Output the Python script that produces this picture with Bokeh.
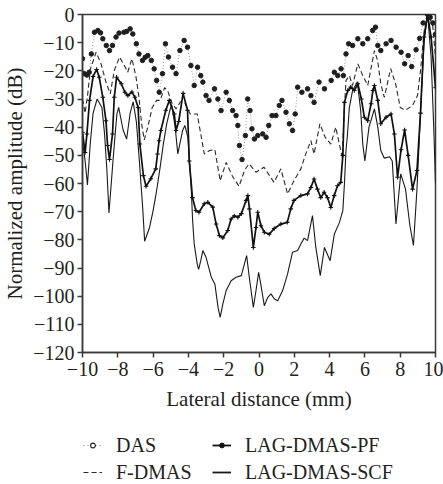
from bokeh.plotting import figure
from bokeh.layouts import column
from bokeh.models import Range1d, Legend, LegendItem, FixedTicker, ColumnDataSource
from bokeh.embed import file_html
from bokeh.resources import INLINE

# ---------------- data ----------------
das_x = [-10, -9.9, -9.75, -9.62, -9.5, -9.32, -9.13, -8.98, -8.85, -8.65, -8.47, -8.3, -8.1, -7.93,
         -7.65, -7.5, -7.3, -7.15, -6.95, -6.8, -6.6, -6.45, -6.3, -6.1, -5.94, -5.8, -5.65, -5.47,
         -5.3, -5.13, -4.9, -4.7, -4.48, -4.24, -4.05, -3.86, -3.67, -3.48, -3.3, -3.18, -3.0, -2.83,
         -2.52, -2.33, -2.15, -1.86, -1.68, -1.49, -1.3, -1.2, -1.11, -0.96, -0.77, -0.64, -0.51,
         -0.4, -0.26, -0.07, 0.21, 0.4, 0.55, 0.74, 0.96, 1.15, 1.3, 1.53, 1.72, 1.9, 2.05, 2.19,
         2.43, 2.75, 2.94, 3.12, 3.4, 3.71, 4.09, 4.27, 4.46, 4.65, 4.78, 4.93, 5.08, 5.3, 5.6,
         5.88, 6.16, 6.44, 6.6, 6.73, 6.9, 7.2, 7.48, 7.77, 8.05, 8.25, 8.45, 8.65, 8.9, 9.1, 9.3,
         9.55, 9.7, 9.85, 10]
das_y = [-15.7, -21, -21.5, -20.5, -14, -6.3, -5.7, -6.5, -8.6, -11, -12.8, -11, -8, -6.6,
         -6.3, -6, -5.1, -6.9, -10.4, -14, -16.3, -15.2, -14.6, -16.3, -19.3, -23.4, -27.6, -21,
         -10.4, -15.1, -18.7, -21, -12.8, -9.2, -11.6, -18.1, -25.2, -18.7, -21.7, -24, -28.8, -30.5,
         -26.4, -30, -34.1, -27.6, -30.5, -34.1, -35.9, -39.4, -46.5, -51.5, -43, -30, -34.1,
         -40.6, -44.2, -43, -42.4, -43.6, -39.4, -35.9, -35.9, -32.3, -30.5, -34.7, -38.8, -41.2, -35.3, -25.8,
         -27.6, -26.4, -28.8, -31.2, -24, -26.4, -23.4, -20.5, -21.7, -19.3, -21.7, -14, -10.4, -11, -8.6,
         -10.4, -8.6, -5.7, -4.5, -11, -12.8, -10.4, -9.2, -11.6, -13.4, -17.5, -14.6, -18.5, -12.5, -8.5, -3,
         0, -1, -3, -7]

fdmas_x = [-10, -9.85, -9.7, -9.55, -9.23, -8.95, -8.67, -8.43, -8.2, -7.9, -7.63, -7.44, -7.2,
           -6.98, -6.8, -6.65, -6.5, -6.3, -6.05, -5.8, -5.6, -5.35, -5.18, -4.95, -4.7, -4.45,
           -4.2, -3.9, -3.5, -3.3, -3.1, -2.8, -2.5, -2.2, -1.86, -1.5, -1.13, -0.8, -0.56, -0.17,
           0.28, 0.85, 1.24, 1.62, 1.98, 2.37, 2.65, 2.94, 3.12, 3.45, 3.75, 4.07, 4.35, 4.55, 4.72,
           4.82, 4.93, 5.12, 5.3, 5.6, 5.88, 6.16, 6.54, 6.72, 6.9, 7.1, 7.46, 7.74, 8.0, 8.3, 8.7,
           8.98, 9.15, 9.36, 9.55, 9.83, 10]
fdmas_y = [-30, -35, -28, -19.3, -13.4, -17.5, -24, -28.2, -19.9, -15.1, -18.1, -20.5, -15.7,
           -21.7, -29.4, -38.8, -44.5, -40, -33, -30.5, -30.5, -26, -27, -31.2, -33.5, -31,
           -31.5, -35.3, -35.3, -42.4, -49.5, -48.3, -48, -59, -52.5, -57.5, -61, -55, -53, -56,
           -54.2, -59.6, -54.8, -63.7, -59, -54.8, -49.5, -44.8, -49.5, -38.8, -43.6, -46, -40, -46, -50.7,
           -35, -23.4, -21.7, -25.2, -17.5, -21.7, -25.2, -12.8, -16.3, -24.6, -29.4, -19.2, -24.6, -33, -34, -32.3,
           -28.8, -20, -5.7, 0, -3.3, -15]

pf_x = [-10, -9.85, -9.75, -9.6, -9.4, -9.2, -9.05, -8.85, -8.67, -8.58, -8.47, -8.3, -8.2, -8.07,
        -7.8, -7.6, -7.43, -7.2, -7.03, -6.85, -6.75, -6.55, -6.4, -6.13, -5.85, -5.75, -5.66, -5.56,
        -5.28, -5.08, -4.8, -4.7, -4.55, -4.3, -4.05, -3.95, -3.77, -3.58, -3.4, -3.1, -2.9, -2.62,
        -2.43, -2.24, -2.05, -1.77, -1.58, -1.4, -1.2, -1.0, -0.73, -0.63, -0.54, -0.32, -0.17, -0.07,
        0.11, 0.3, 0.58, 0.86, 1.24, 1.6, 1.8, 1.98, 2.37, 2.75, 2.94, 3.12, 3.31, 3.5, 3.69, 3.88,
        4.07, 4.26, 4.45, 4.63, 4.75, 4.84, 5.03, 5.2, 5.4, 5.6, 5.8, 5.97, 6.16, 6.35, 6.45, 6.54,
        6.73, 6.9, 7.2, 7.48, 7.67, 7.85, 8.05, 8.25, 8.45, 8.7, 8.95, 9.15, 9.35, 9.55, 9.75, 10]
pf_y = [-41.8, -49, -42.4, -30.5, -22, -19.5, -22.3, -29.4, -37.7, -46.5, -51.5, -42.4, -29.4, -22.3,
        -24.6, -27.6, -28.8, -27.5, -29.4, -33, -46, -57.2, -61, -58.3, -54.8, -49.5, -44.8, -41.2,
        -34, -30.5, -35.3, -41.2, -38, -28, -34, -52, -65, -69.6, -70.2, -67.2, -66.7, -68.4,
        -74.4, -78.5, -79.3, -76.7, -72.6, -71.5, -72, -70.7, -66, -64.3, -69, -82.7, -75.6, -70.2,
        -75, -77.3, -78, -76, -74.4, -73.8, -69, -66, -64.3, -63.7, -61.4, -58.4, -62, -65, -63.1, -65,
        -68.5, -64.3, -60.8, -59.6, -50, -31.2, -27, -25.8, -27, -24.6, -30, -36.5, -37.7, -31.7, -27, -25.2,
        -30.5, -38.8, -36.5, -35.3, -42.4, -57.8, -48, -41, -50, -62, -55.4, -35, -8, 0, -8, -26]

scf_x = [-10, -9.85, -9.72, -9.55, -9.4, -9.17, -8.9, -8.75, -8.62, -8.5, -8.3, -8.15, -8.05, -7.95,
         -7.7, -7.5, -7.3, -7.13, -6.95, -6.85, -6.67, -6.58, -6.48, -6.2, -6.0, -5.8, -5.6, -5.42,
         -5.23, -5.05, -4.95, -4.75, -4.6, -4.33, -4.2, -4.03, -3.85, -3.76, -3.67, -3.5, -3.42,
         -3.3, -3.18, -3.0, -2.7, -2.5, -2.32, -2.2, -2.05, -1.86, -1.58, -1.3, -1.0, -0.83, -0.7,
         -0.55, -0.32, -0.17, -0.02, 0.1, 0.3, 0.5, 0.68, 0.87, 1.06, 1.34, 1.62, 1.9, 2.19, 2.37,
         2.56, 2.75, 3.03, 3.22, 3.47, 3.71, 4.03, 4.27, 4.56, 4.75, 4.84, 4.93, 5.0, 5.12, 5.3,
         5.57, 5.76, 5.88, 6.0, 6.23, 6.54, 6.73, 6.9, 7.1, 7.4, 7.55, 7.76, 8.03, 8.3, 8.55, 8.75,
         8.95, 9.15, 9.35, 9.55, 9.75, 9.9, 10]
scf_y = [-45, -52, -60.5, -45, -35, -30, -33, -42.4, -55, -70.5, -54.2, -42.4, -35.3, -33,
         -41, -44.2, -35, -31, -38, -46, -61.4, -69.6, -80.5, -75.6, -69.6, -62.5, -54.2, -46,
         -38.8, -34, -32, -40, -49.5, -41.2, -39.4, -43.6, -60.2, -73.2, -81.5, -88.6, -90.5,
         -87.4, -83.8, -86.2, -93.3, -95.7, -104, -107.5, -102.8, -98, -94.5, -93.3, -92.7, -88.6, -85.6,
         -93.3, -104, -98, -91.5, -95.7, -103.4, -100.4, -99.2, -101, -101.6, -98, -92.1, -84.4, -83.8, -81.5,
         -79.4, -80.3, -71.4, -82.7, -92.7, -82.7, -87.4, -77.9, -73.8, -69.6, -60.2, -48, -43.6, -33, -27,
         -24, -34, -46, -52, -40, -33.5, -40, -48.3, -51, -50.5, -52, -74.4, -56.6, -62, -75, -82,
         -62, -35, -10, 0, -15, -40, -60]

x_ticks = [-10, -8, -6, -4, -2, 0, 2, 4, 6, 8, 10]
x_tick_labels = ["\u221210", "\u22128", "\u22126", "\u22124", "\u22122", "0", "2", "4", "6", "8", "10"]
y_ticks = [0, -10, -20, -30, -40, -50, -60, -70, -80, -90, -100, -110, -120]
y_tick_labels = ["0", "\u221210", "\u221220", "\u221230", "\u221240", "\u221250", "\u221260",
                 "\u221270", "\u221280", "\u221290", "\u2212100", "\u2212110", "\u2212120"]
x_label = "Lateral distance (mm)"
y_label = "Normalized amplitude (dB)"
names = ["DAS", "F-DMAS", "LAG-DMAS-PF", "LAG-DMAS-SCF"]

FONT = "Liberation Serif"
INK = "#231f20"

# ---------------- main plot ----------------
p = figure(width=443, height=420, output_backend="svg", toolbar_location=None,
           x_range=Range1d(-10, 10), y_range=Range1d(-120, 0),
           min_border_left=81, min_border_right=8, min_border_top=14, min_border_bottom=68)
p.grid.visible = False
p.background_fill_color = "white"
p.border_fill_color = "white"
p.outline_line_color = "#3a3a3a"
p.outline_line_width = 1.5

for ax in (p.xaxis[0], p.yaxis[0]):
    ax.axis_line_color = "#3a3a3a"
    ax.axis_line_width = 1.5
    ax.major_tick_line_color = "#3a3a3a"
    ax.major_tick_line_width = 1.5
    ax.major_tick_out = 5
    ax.major_tick_in = 0
    ax.minor_tick_line_color = None
    ax.major_label_text_font = FONT
    ax.major_label_text_font_size = "20px"
    ax.major_label_text_color = INK
    ax.axis_label_text_font = FONT
    ax.axis_label_text_font_size = "21px"
    ax.axis_label_text_font_style = "normal"
    ax.axis_label_text_color = INK

p.xaxis.ticker = FixedTicker(ticks=x_ticks)
p.xaxis.major_label_overrides = dict(zip(x_ticks, x_tick_labels))
p.xaxis.axis_label = x_label
p.xaxis.major_label_standoff = 4
p.xaxis.axis_label_standoff = 8
p.yaxis.ticker = FixedTicker(ticks=y_ticks)
p.yaxis.major_label_overrides = dict(zip(y_ticks, y_tick_labels))
p.yaxis.axis_label = y_label
p.yaxis.major_label_standoff = 3
p.yaxis.axis_label_standoff = 3

p.line(scf_x, scf_y, line_color="#1a1a1a", line_width=1.1)
p.line(fdmas_x, fdmas_y, line_color="#2a2a2a", line_width=1.1, line_dash="5 3")
p.line(pf_x, pf_y, line_color="#111111", line_width=1.7)
p.scatter(pf_x, pf_y, marker="cross", size=4.5, line_color="#111111", line_width=1.1)
p.line(das_x, das_y, line_color="#9a9a9a", line_width=1, line_dash="1 2")
p.scatter(das_x, das_y, marker="circle", size=4.5, fill_color="#1e1e1e", line_color="#1e1e1e")

# ---------------- legend strip ----------------
lg = figure(width=443, height=64, output_backend="svg", toolbar_location=None,
            x_range=Range1d(0, 1), y_range=Range1d(0, 1),
            x_axis_location=None, y_axis_location=None,
            min_border_left=0, min_border_right=0, min_border_top=0, min_border_bottom=0)
lg.grid.visible = False
lg.outline_line_color = None
lg.background_fill_color = "white"
lg.border_fill_color = "white"

# legend icons only: one point placed outside the visible range
off = ColumnDataSource(data=dict(x=[5], y=[5]))
r_das_l = lg.line("x", "y", source=off, line_color="#777777", line_width=1, line_dash="1 3")
r_das_m = lg.scatter("x", "y", source=off, marker="circle", size=5, fill_color="white",
                     line_color="#1e1e1e", line_width=1.1)
r_fd = lg.line("x", "y", source=off, line_color="#2a2a2a", line_width=1.1, line_dash="5 3")
r_pf_l = lg.line("x", "y", source=off, line_color="#111111", line_width=1.8)
r_pf_m = lg.scatter("x", "y", source=off, marker="circle", size=4.5, fill_color="#111111",
                    line_color="#111111")
r_scf = lg.line("x", "y", source=off, line_color="#1a1a1a", line_width=1.8)

legend = Legend(items=[LegendItem(label=names[0], renderers=[r_das_l, r_das_m]),
                       LegendItem(label=names[1], renderers=[r_fd]),
                       LegendItem(label=names[2], renderers=[r_pf_l, r_pf_m]),
                       LegendItem(label=names[3], renderers=[r_scf])],
                orientation="vertical", ncols=2, location=(1, 0),
                border_line_color=None, background_fill_alpha=0, padding=0, margin=0,
                spacing=3, label_height=24, glyph_height=12, glyph_width=19,
                label_standoff=14, label_width=93,
                label_text_font=FONT, label_text_font_size="20px", label_text_color=INK)
lg.add_layout(legend)

open("out.html", "w").write(file_html(column(p, lg, spacing=0), INLINE))
